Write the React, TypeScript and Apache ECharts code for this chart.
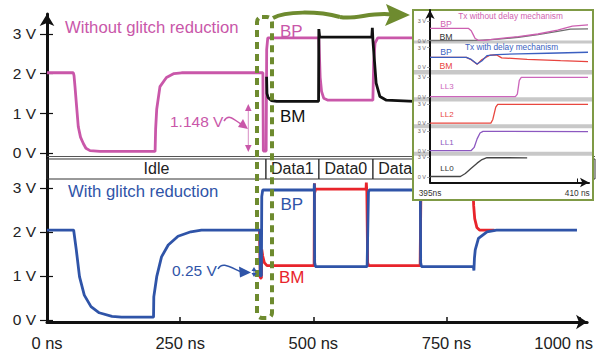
import React, { useEffect, useRef } from 'react';
import * as echarts from 'echarts';

// ---------- data ----------
const xTicks = [0, 250, 500, 750, 1000];
const voltTicks = [0, 1, 2, 3];
const insetTicks = [395, 410];
const insetTickLabels = ['395ns', '410 ns'];
const insetVoltTicks = [0, 3];
const phaseBounds = [0, 405, 503, 603, 702, 802, 1014];
const phaseLabels = ['Idle', 'Data1', 'Data0', 'Data1', 'Data0', 'Idle'];

// main top panel (without glitch reduction), [ns, V]
const topBP = [
  [0, 2.02], [48.7, 2.02], [50, 1.95], [51.8, 1.67], [54, 1.3], [57.9, 0.66], [62, 0.4], [67.2, 0.24],
  [72, 0.12], [79.6, 0.06], [98, 0.04], [200, 0.04], [201, 0.6], [203, 1.1], [209, 1.67], [221, 1.9],
  [235, 2.0], [249, 2.02], [399.5, 2.02], [400.3, 0.05], [405.5, 0.05], [406.5, 2.6], [408.5, 2.9],
  [503, 2.9], [504, 2.5], [505.5, 1.9], [508, 1.55], [512, 1.38], [520, 1.33], [603, 1.33],
  [604.5, 2.3], [607, 2.77], [612, 2.9], [680, 2.9],
];
const topBM = [
  [406.3, 1.92], [407, 1.5], [409, 1.4], [415, 1.32], [425, 1.3], [502.5, 1.3], [503, 3.12],
  [504.5, 2.92], [601, 2.92], [602, 3.15], [603, 2.85], [606, 2.3], [609, 1.76], [616, 1.42],
  [628, 1.33], [680, 1.3],
];
// main bottom panel (with glitch reduction)
const botBP = [
  [0, 2.04], [50, 2.04], [55, 1.59], [61, 0.98], [70, 0.56], [82.6, 0.3], [98, 0.16], [122, 0.08],
  [140, 0.06], [200, 0.06], [200.5, 0.52], [206, 0.98], [215, 1.43], [227.6, 1.7], [246, 1.9],
  [270, 2.0], [290, 2.04], [400, 2.04], [400.4, 1.0], [402.5, 1.0], [403.2, 2.8], [405, 2.95],
  [501.5, 2.95], [502, 3.1], [502.5, 1.3], [504, 1.21], [601, 1.21], [603.5, 2.9], [605, 2.95],
  [701, 2.95], [701.5, 1.3], [703, 1.21], [800.5, 1.21], [801.5, 1.12], [802.5, 1.4], [804, 1.59],
  [810, 1.85], [826, 2.0], [844, 2.04], [995, 2.04],
];
const botBM = [
  [399, 2.04], [400, 2.04], [400.4, 0.95], [402.5, 0.95], [403.2, 1.6], [405, 1.45], [408, 1.3],
  [413, 1.23], [501.5, 1.23], [502, 3.1], [503, 2.9], [504, 2.97], [599, 2.97], [599.5, 3.12],
  [600.5, 2.9], [602, 1.3], [604, 1.23], [700.5, 1.23], [702, 2.9], [704, 2.97], [800, 2.97],
  [801, 2.6], [803, 2.3], [807, 2.1], [812, 2.04], [840, 2.04],
];
// inset panels, [ns, V]
const txNoBP = [
  [395, 1.88], [398.9, 1.88], [399.2, 1.5], [399.4, 0.9], [399.6, 0.3], [399.9, 0.05], [400.5, 0.03],
  [402, 0.3], [404, 0.6], [406, 1.0], [408, 1.6], [409.5, 2.2], [411.1, 2.4],
];
const txNoBM = [
  [395, 0.0], [399.9, 0.02], [402, 0.2], [404, 0.5], [406, 0.9], [408, 1.4], [409.3, 1.75], [411.1, 1.8],
];
const txDlyBP = [
  [395, 1.53], [398.7, 1.53], [399.2, 1.2], [399.8, 0.5], [400.3, 1.0], [400.8, 1.78], [401.8, 1.95],
  [404, 2.05], [407, 2.15], [411.1, 2.3],
];
const txDlyBM = [
  [395, 1.53], [398.7, 1.53], [399.2, 1.15], [399.8, 0.45], [400.3, 1.2], [401.1, 1.85], [401.8, 1.88],
  [402.3, 1.45], [404.9, 1.22], [408.3, 1.01], [411.1, 0.86],
];
const ll3 = [[395, 0.02], [403.7, 0.02], [403.9, 0.4], [404.1, 2.5], [404.3, 2.95], [411.1, 2.95]];
const ll2 = [[395, 0.02], [401.2, 0.02], [401.4, 0.6], [401.7, 2.5], [401.9, 2.95], [411.1, 2.95]];
const ll1 = [[395, 0.02], [399.2, 0.02], [399.5, 0.5], [399.8, 1.8], [400.1, 2.7], [400.4, 2.95], [411.1, 2.92]];
const ll0 = [[395, 0.05], [398.1, 0.05], [398.6, 0.5], [399.2, 1.3], [399.8, 2.1], [400.3, 2.65], [400.8, 2.95], [404.9, 2.92]];

// ---------- styling ----------
const FF = 'Liberation Sans';
const PINK = '#c957a9';
const BLUE = '#2f54a8';
const RED = '#e8242b';
const OLIVE = '#6e8b2f';

const insetPanels = [
  { top: 21, height: 19.5 },
  { top: 47.7, height: 19.6 },
  { top: 77, height: 19.8 },
  { top: 104, height: 19.3 },
  { top: 131, height: 19.7 },
  { top: 157.3, height: 19.5 },
];

function line(name: string, data: number[][], color: string, width: number, xi: number, yi: number, z: number, extra: any = {}) {
  return {
    type: 'line', name, data, xAxisIndex: xi, yAxisIndex: yi, showSymbol: false, symbol: 'none',
    lineStyle: { color, width }, itemStyle: { color }, z, clip: false, silent: true, ...extra,
  };
}

function txt(text: string, x: number, y: number, fill: string, size: number, z: number, center = false) {
  const a = center ? 'center' : 'left';
  return {
    type: 'text', z, silent: true,
    style: {
      text, x, y, fill, fontSize: size, fontFamily: FF,
      align: a, textAlign: a, verticalAlign: 'middle', textVerticalAlign: 'middle',
    },
  };
}

function buildOption() {
  const markAreaData = phaseLabels.map((name, i) => [
    { name, xAxis: phaseBounds[i], yAxis: -0.151 },
    { xAxis: phaseBounds[i + 1], yAxis: -0.655 },
  ]);

  const mainTick = { color: '#111', width: 1.2 };

  const xAxis: any[] = [
    { gridIndex: 0, type: 'value', min: 0, max: 1014, show: false },
    {
      gridIndex: 1, type: 'value', min: 0, max: 1014,
      axisLine: { show: true, onZero: false, lineStyle: { color: '#111', width: 3 }, symbol: ['none', 'arrow'], symbolSize: [11, 11] },
      axisTick: { show: true, inside: true, length: 5, customValues: xTicks.slice(1), lineStyle: { color: '#111', width: 1.5 } },
      axisLabel: {
        customValues: xTicks, margin: 12, color: '#222', fontSize: 16.5, fontFamily: FF,
        formatter: (v: number) => (v === 1000 ? '{last|' + v + ' ns}' : v + ' ns'),
        rich: { last: { padding: [0, 32, 0, 0], fontSize: 16.5, fontFamily: FF, color: '#222' } },
      },
      splitLine: { show: false },
    },
    {
      gridIndex: 2, type: 'value', min: 395, max: 411.2, z: 70,
      axisLine: { show: true, onZero: false, lineStyle: { color: '#111', width: 2 }, symbol: ['none', 'arrow'], symbolSize: [7, 9] },
      axisTick: { show: true, inside: true, length: 4, customValues: [410], lineStyle: { color: '#111', width: 1 } },
      axisLabel: {
        customValues: insetTicks, margin: 6, color: '#333', fontSize: 8.3, fontFamily: FF,
        formatter: (v: number) => insetTickLabels[insetTicks.indexOf(v)],
      },
      splitLine: { show: false },
    },
    ...insetPanels.map((_, i) => ({ gridIndex: 3 + i, type: 'value', min: 395, max: 411.2, show: false })),
  ];

  const yAxis: any[] = [
    {
      gridIndex: 0, type: 'value', min: -0.655, max: 3.5, position: 'left',
      axisLine: { show: true, onZero: false, lineStyle: { color: '#111', width: 3 }, symbol: ['none', 'arrow'], symbolSize: [11, 12] },
      axisTick: { show: true, length: 7, customValues: voltTicks, lineStyle: mainTick },
      axisLabel: { customValues: voltTicks, formatter: '{value} V', margin: 11, fontSize: 15.5, color: '#222', fontFamily: FF },
      splitLine: { show: false },
    },
    {
      gridIndex: 0, type: 'value', min: -0.655, max: 3.5, position: 'left',
      axisLine: { show: false }, axisLabel: { show: false }, splitLine: { show: false },
      axisTick: { show: true, inside: true, length: 6, customValues: voltTicks, lineStyle: mainTick },
    },
    {
      gridIndex: 1, type: 'value', min: -0.05, max: 3.2, position: 'left',
      axisLine: { show: true, onZero: false, lineStyle: { color: '#111', width: 3 } },
      axisTick: { show: true, length: 7, customValues: voltTicks, lineStyle: mainTick },
      axisLabel: { customValues: voltTicks, formatter: '{value} V', margin: 11, fontSize: 15.5, color: '#222', fontFamily: FF },
      splitLine: { show: false },
    },
    {
      gridIndex: 1, type: 'value', min: -0.05, max: 3.2, position: 'left',
      axisLine: { show: false }, axisLabel: { show: false }, splitLine: { show: false },
      axisTick: { show: true, inside: true, length: 6, customValues: voltTicks, lineStyle: mainTick },
    },
    {
      gridIndex: 2, type: 'value', min: 0, max: 1, position: 'left', z: 70,
      axisLine: { show: true, onZero: false, lineStyle: { color: '#111', width: 2 }, symbol: ['none', 'arrow'], symbolSize: [7, 9] },
      axisTick: { show: false }, axisLabel: { show: false }, splitLine: { show: false },
    },
    ...insetPanels.map((_, i) => ({
      gridIndex: 3 + i, type: 'value', min: 0, max: 3, position: 'left', z: 70,
      axisLine: { show: false },
      axisTick: { show: true, length: 3, customValues: insetVoltTicks, lineStyle: { color: '#888', width: 0.8 } },
      axisLabel: { customValues: insetVoltTicks, formatter: '{value} V', fontSize: 5.5, color: '#666', margin: 4, fontFamily: FF },
      splitLine: { show: false },
    })),
  ];

  const series: any[] = [
    line('BP without glitch reduction', topBP, PINK, 2.8, 0, 0, 2, {
      markArea: {
        silent: true,
        itemStyle: { color: 'rgba(0,0,0,0)', borderColor: '#333', borderWidth: 1 },
        label: { show: true, position: 'inside', color: '#222', fontSize: 16, fontFamily: FF },
        data: markAreaData,
      },
      markLine: {
        silent: true, symbol: 'none', label: { show: false },
        lineStyle: { color: '#555', width: 1, type: 'solid' },
        data: [{ yAxis: -0.0755 }],
      },
    }),
    line('BM without glitch reduction', topBM, '#111', 2.8, 0, 0, 3),
    line('BM with glitch reduction', botBM, RED, 2.8, 1, 2, 2),
    line('BP with glitch reduction', botBP, BLUE, 2.8, 1, 2, 3),
    line('Tx no delay BP', txNoBP, '#cc5fb0', 1.3, 3, 5, 71),
    line('Tx no delay BM', txNoBM, '#707070', 1.3, 3, 5, 70),
    line('Tx delay BM', txDlyBM, '#e8433e', 1.3, 4, 6, 70),
    line('Tx delay BP', txDlyBP, '#3b5fc0', 1.3, 4, 6, 71),
    line('LL3', ll3, '#cc66bb', 1.3, 5, 7, 70),
    line('LL2', ll2, '#e8473f', 1.3, 6, 8, 70),
    line('LL1', ll1, '#8c58c0', 1.3, 7, 9, 70),
    line('LL0', ll0, '#444', 1.3, 8, 10, 70),
  ];

  const bands = [[40.5, 3], [70, 4.5], [97.3, 4.3], [124.3, 4], [151.7, 4]];

  const graphic: any[] = [
    // green dashed window
    { type: 'rect', z: 40, silent: true, shape: { x: 257, y: 17, width: 15, height: 301, r: 5 },
      style: { fill: 'none', stroke: OLIVE, lineWidth: 4, lineDash: [7, 5] } },
    { type: 'bezierCurve', z: 40, silent: true,
      shape: { x1: 273, y1: 18, cpx1: 285, cpy1: 11, cpx2: 318, cpy2: 11, x2: 340, y2: 17 },
      style: { fill: 'none', stroke: OLIVE, lineWidth: 4 } },
    { type: 'bezierCurve', z: 40, silent: true,
      shape: { x1: 340, y1: 17, cpx1: 356, cpy1: 20, cpx2: 370, cpy2: 12, x2: 392, y2: 14.5 },
      style: { fill: 'none', stroke: OLIVE, lineWidth: 4 } },
    { type: 'polygon', z: 40, silent: true, shape: { points: [[410, 15], [386, 4], [390, 15], [385, 26]] },
      style: { fill: OLIVE } },
    // inset frame
    { type: 'rect', z: 50, silent: true, shape: { x: 413, y: 10, width: 180, height: 190 },
      style: { fill: '#fff', stroke: '#7f9a45', lineWidth: 2 } },
    ...bands.map(([y, h]) => ({ type: 'rect', z: 55, silent: true, shape: { x: 414, y, width: 178, height: h },
      style: { fill: '#c8c8c8' } })),
    // main texts
    txt('Without glitch reduction', 65, 27.5, PINK, 16.7, 45),
    txt('With glitch reduction', 68, 191, BLUE, 16.7, 45),
    txt('BP', 280, 31, PINK, 17, 45),
    txt('BM', 280, 116, '#111', 17, 45),
    txt('BP', 280.5, 204, BLUE, 17, 45),
    txt('BM', 279, 277.5, RED, 17, 45),
    txt('1.148 V', 170, 121, PINK, 15.5, 45),
    txt('0.25 V', 172, 270, BLUE, 15.5, 45),
    // 1.148 V arrows
    { type: 'bezierCurve', z: 45, silent: true,
      shape: { x1: 224, y1: 121, cpx1: 229, cpy1: 113, cpx2: 234, cpy2: 120, x2: 241, y2: 124 },
      style: { fill: 'none', stroke: PINK, lineWidth: 1.5 } },
    { type: 'polygon', z: 45, silent: true, shape: { points: [[248, 129], [238, 127], [243, 119]] }, style: { fill: PINK } },
    { type: 'line', z: 45, silent: true, shape: { x1: 248.3, y1: 108, x2: 248.3, y2: 148 }, style: { stroke: '#d88cc4', lineWidth: 1 } },
    { type: 'polygon', z: 45, silent: true, shape: { points: [[248.3, 104], [245, 111], [251.6, 111]] }, style: { fill: PINK } },
    { type: 'polygon', z: 45, silent: true, shape: { points: [[248.3, 152], [245, 145], [251.6, 145]] }, style: { fill: PINK } },
    // 0.25 V arrows
    { type: 'bezierCurve', z: 45, silent: true,
      shape: { x1: 218, y1: 269, cpx1: 222, cpy1: 262, cpx2: 228, cpy2: 266, x2: 240, y2: 271.5 },
      style: { fill: 'none', stroke: BLUE, lineWidth: 1.5 } },
    { type: 'polygon', z: 45, silent: true, shape: { points: [[251, 272.5], [239, 266.5], [240, 277.5]] }, style: { fill: BLUE } },
    { type: 'line', z: 45, silent: true, shape: { x1: 254, y1: 270, x2: 254, y2: 274 }, style: { stroke: BLUE, lineWidth: 1 } },
    { type: 'polygon', z: 45, silent: true, shape: { points: [[254, 267], [251.5, 271], [256.5, 271]] }, style: { fill: BLUE } },
    { type: 'polygon', z: 45, silent: true, shape: { points: [[254, 277], [251.5, 273], [256.5, 273]] }, style: { fill: BLUE } },
    // inset texts
    txt('Tx without delay mechanism', 510.5, 16, '#d05fb0', 8.3, 75, true),
    txt('Tx with delay mechanism', 511.5, 47, '#3b5fc0', 8.3, 75, true),
    txt('BP', 446, 24, '#d05fb0', 8.7, 75, true),
    txt('BM', 446, 37, '#333', 8.7, 75, true),
    txt('BP', 446, 52, '#3b5fc0', 8.7, 75, true),
    txt('BM', 446, 66, '#e8433e', 8.7, 75, true),
    txt('LL3', 447, 86, '#cc66bb', 8, 75, true),
    txt('LL2', 447, 114, '#e8473f', 8, 75, true),
    txt('LL1', 447, 142, '#8c58c0', 8, 75, true),
    txt('LL0', 447, 168, '#333', 8, 75, true),
  ];

  return {
    animation: false,
    backgroundColor: '#fff',
    textStyle: { fontFamily: FF },
    grid: [
      { left: 47, top: 14, width: 548, height: 165 },
      { left: 47, top: 179, width: 548, height: 143 },
      { left: 430, top: 10, width: 159, height: 172.5 },
      ...insetPanels.map((p) => ({ left: 430, top: p.top, width: 159, height: p.height })),
    ],
    xAxis,
    yAxis,
    series,
    graphic,
  };
}

export default function App() {
  const ref = useRef<HTMLDivElement>(null);
  useEffect(() => {
    if (!ref.current) return;
    const chart = echarts.init(ref.current, null, { renderer: 'svg', width: 596, height: 357 });
    chart.setOption(buildOption() as any);
    return () => chart.dispose();
  }, []);
  return <div ref={ref} style={{ position: 'fixed', left: 0, top: 0, width: 596, height: 357 }} />;
}
